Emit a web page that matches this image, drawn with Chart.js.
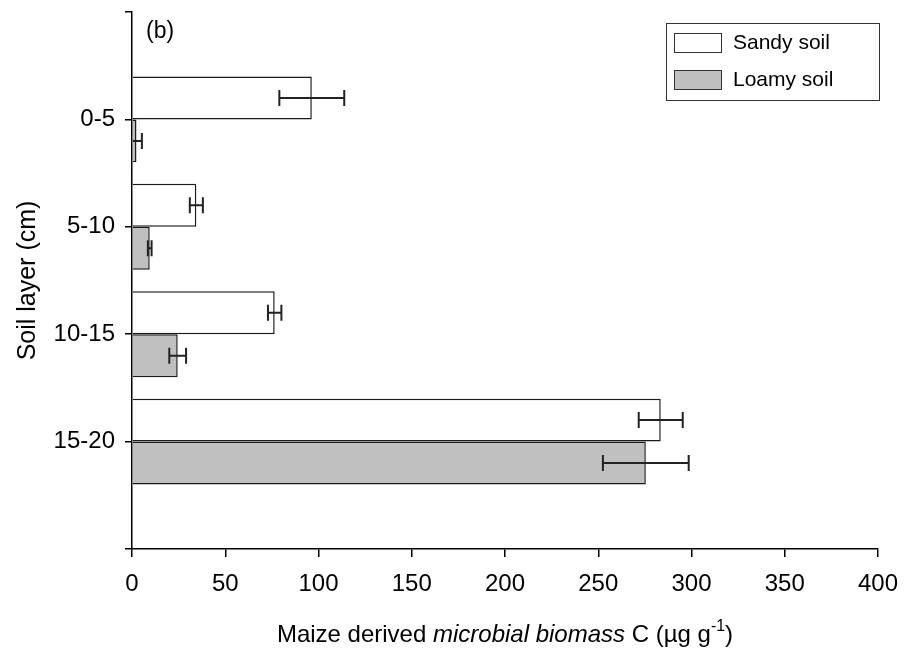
<!DOCTYPE html>
<html>
<head>
<meta charset="utf-8">
<script src="https://cdn.jsdelivr.net/npm/chart.js@4"></script>
<style>
  html, body { margin: 0; padding: 0; background: #fff; }
  #wrap { width: 905px; height: 652px; }
</style>
</head>
<body>
<div id="wrap"><canvas id="c" width="905" height="652"></canvas></div>
<script>
// ---- data ----
const categories = ['', '0-5', '5-10', '10-15', '15-20', ''];
const seriesNames = ['Sandy soil', 'Loamy soil'];
const sandy    = [null, 96.4, 34.5, 76.5, 283.5, null];
const sandyErr = [null, 17.4, 3.5, 3.6, 11.8, null];
const loamy    = [null, 2.4, 9.5, 24.5, 275.5, null];
const loamyErr = [null, 2.9, 1.0, 4.5, 23.0, null];
const xMin = 0, xMax = 400, xStep = 50;
const panelLabel = '(b)';
const yTitle = 'Soil layer (cm)';
const xTitleParts = [
  {t: 'Maize derived ', style: 'normal'},
  {t: 'microbial biomass', style: 'italic'},
  {t: ' C (\u00B5g g', style: 'normal'},
  {t: '-1', style: 'sup'},
  {t: ')', style: 'normal'}
];

const FONT = '"Liberation Sans", Arial, Helvetica, sans-serif';
Chart.defaults.font.family = FONT;
Chart.defaults.color = '#000';

const errors = [sandyErr, loamyErr];

const errorBarPlugin = {
  id: 'errorBars',
  afterDatasetsDraw(chart) {
    const ctx = chart.ctx, xs = chart.scales.x, ca = chart.chartArea;
    ctx.save();
    ctx.beginPath();
    ctx.rect(ca.left + 1, ca.top, ca.right - ca.left, ca.bottom - ca.top);
    ctx.clip();
    ctx.strokeStyle = '#222';
    ctx.lineWidth = 2;
    chart.data.datasets.forEach((ds, i) => {
      const meta = chart.getDatasetMeta(i);
      meta.data.forEach((el, j) => {
        const v = ds.data[j], e = errors[i][j];
        if (v == null || e == null) return;
        const x1 = xs.getPixelForValue(v - e), x2 = xs.getPixelForValue(v + e);
        const y = el.y, h = 8;
        ctx.beginPath();
        ctx.moveTo(x1, y); ctx.lineTo(x2, y);
        ctx.moveTo(x1, y - h); ctx.lineTo(x1, y + h);
        ctx.moveTo(x2, y - h); ctx.lineTo(x2, y + h);
        ctx.stroke();
      });
    });
    ctx.restore();
  }
};

const decorPlugin = {
  id: 'decor',
  afterDraw(chart) {
    const ctx = chart.ctx, ca = chart.chartArea;
    ctx.save();
    // panel label
    ctx.fillStyle = '#000';
    ctx.font = '23px ' + FONT;
    ctx.textBaseline = 'middle';
    ctx.textAlign = 'left';
    ctx.fillText(panelLabel, ca.left + 14, ca.top + 20);

    // legend
    const lw = 213, lh = 77;
    const lx = ca.right + 1 - lw, ly = ca.top + 11;
    ctx.strokeStyle = '#333';
    ctx.lineWidth = 1;
    ctx.strokeRect(lx + 0.5, ly + 0.5, lw, lh);
    chart.data.datasets.forEach((ds, i) => {
      const sy = ly + 10 + i * 37;
      ctx.fillStyle = ds.backgroundColor;
      ctx.fillRect(lx + 8, sy, 47, 19);
      ctx.strokeStyle = '#333';
      ctx.strokeRect(lx + 8.5, sy + 0.5, 47, 19);
      ctx.fillStyle = '#000';
      ctx.font = '21px ' + FONT;
      ctx.textBaseline = 'middle';
      ctx.fillText(ds.label, lx + 67, sy + 10);
    });

    // x axis title with italic and superscript parts
    const base = 24, sup = 16;
    const fontFor = p => p.style === 'italic' ? 'italic ' + base + 'px ' + FONT
                      : p.style === 'sup' ? sup + 'px ' + FONT : base + 'px ' + FONT;
    let total = 0;
    xTitleParts.forEach(p => { ctx.font = fontFor(p); total += ctx.measureText(p.t).width; });
    let x = (ca.left + ca.right) / 2 - total / 2;
    const by = 642;
    ctx.textBaseline = 'alphabetic';
    ctx.fillStyle = '#000';
    xTitleParts.forEach(p => {
      ctx.font = fontFor(p);
      ctx.fillText(p.t, x, p.style === 'sup' ? by - 11 : by);
      x += ctx.measureText(p.t).width;
    });
    ctx.restore();
  }
};

new Chart(document.getElementById('c'), {
  type: 'bar',
  data: {
    labels: categories,
    datasets: [
      { label: seriesNames[0], data: sandy, backgroundColor: '#ffffff', borderColor: '#1a1a1a', borderWidth: 1.5,
        categoryPercentage: 0.8, barPercentage: 1.0 },
      { label: seriesNames[1], data: loamy, backgroundColor: '#c0c0c0', borderColor: '#1a1a1a', borderWidth: 1.5,
        categoryPercentage: 0.8, barPercentage: 1.0 }
    ]
  },
  options: {
    indexAxis: 'y',
    responsive: false,
    animation: false,
    layout: { autoPadding: false, padding: { top: 12, right: 27, left: 0, bottom: 0 } },
    plugins: { legend: { display: false }, tooltip: { enabled: false } },
    scales: {
      x: {
        min: xMin, max: xMax,
        ticks: { stepSize: xStep, font: { size: 24 }, padding: 13, color: '#000' },
        grid: { drawOnChartArea: false, drawTicks: true, tickLength: 8, color: '#000', lineWidth: 1.5 },
        border: { display: true, color: '#000', width: 1.5 },
        title: { display: false },
        afterFit(scale) { scale.height = 103; scale.paddingLeft = 0; scale.paddingRight = 0; }
      },
      y: {
        offset: false,
        ticks: { font: { size: 24 }, padding: 10, color: '#000', autoSkip: false },
        grid: { drawOnChartArea: false, drawTicks: true, tickLength: 7, color: '#000', lineWidth: 1.5, offset: false },
        border: { display: true, color: '#000', width: 1.5 },
        title: { display: true, text: yTitle, font: { size: 25 }, padding: { top: 13, bottom: 0 }, color: '#000' },
        afterFit(scale) { scale.width = 132; scale.paddingTop = 0; scale.paddingBottom = 0; }
      }
    }
  },
  plugins: [errorBarPlugin, decorPlugin]
});
</script>
</body>
</html>
